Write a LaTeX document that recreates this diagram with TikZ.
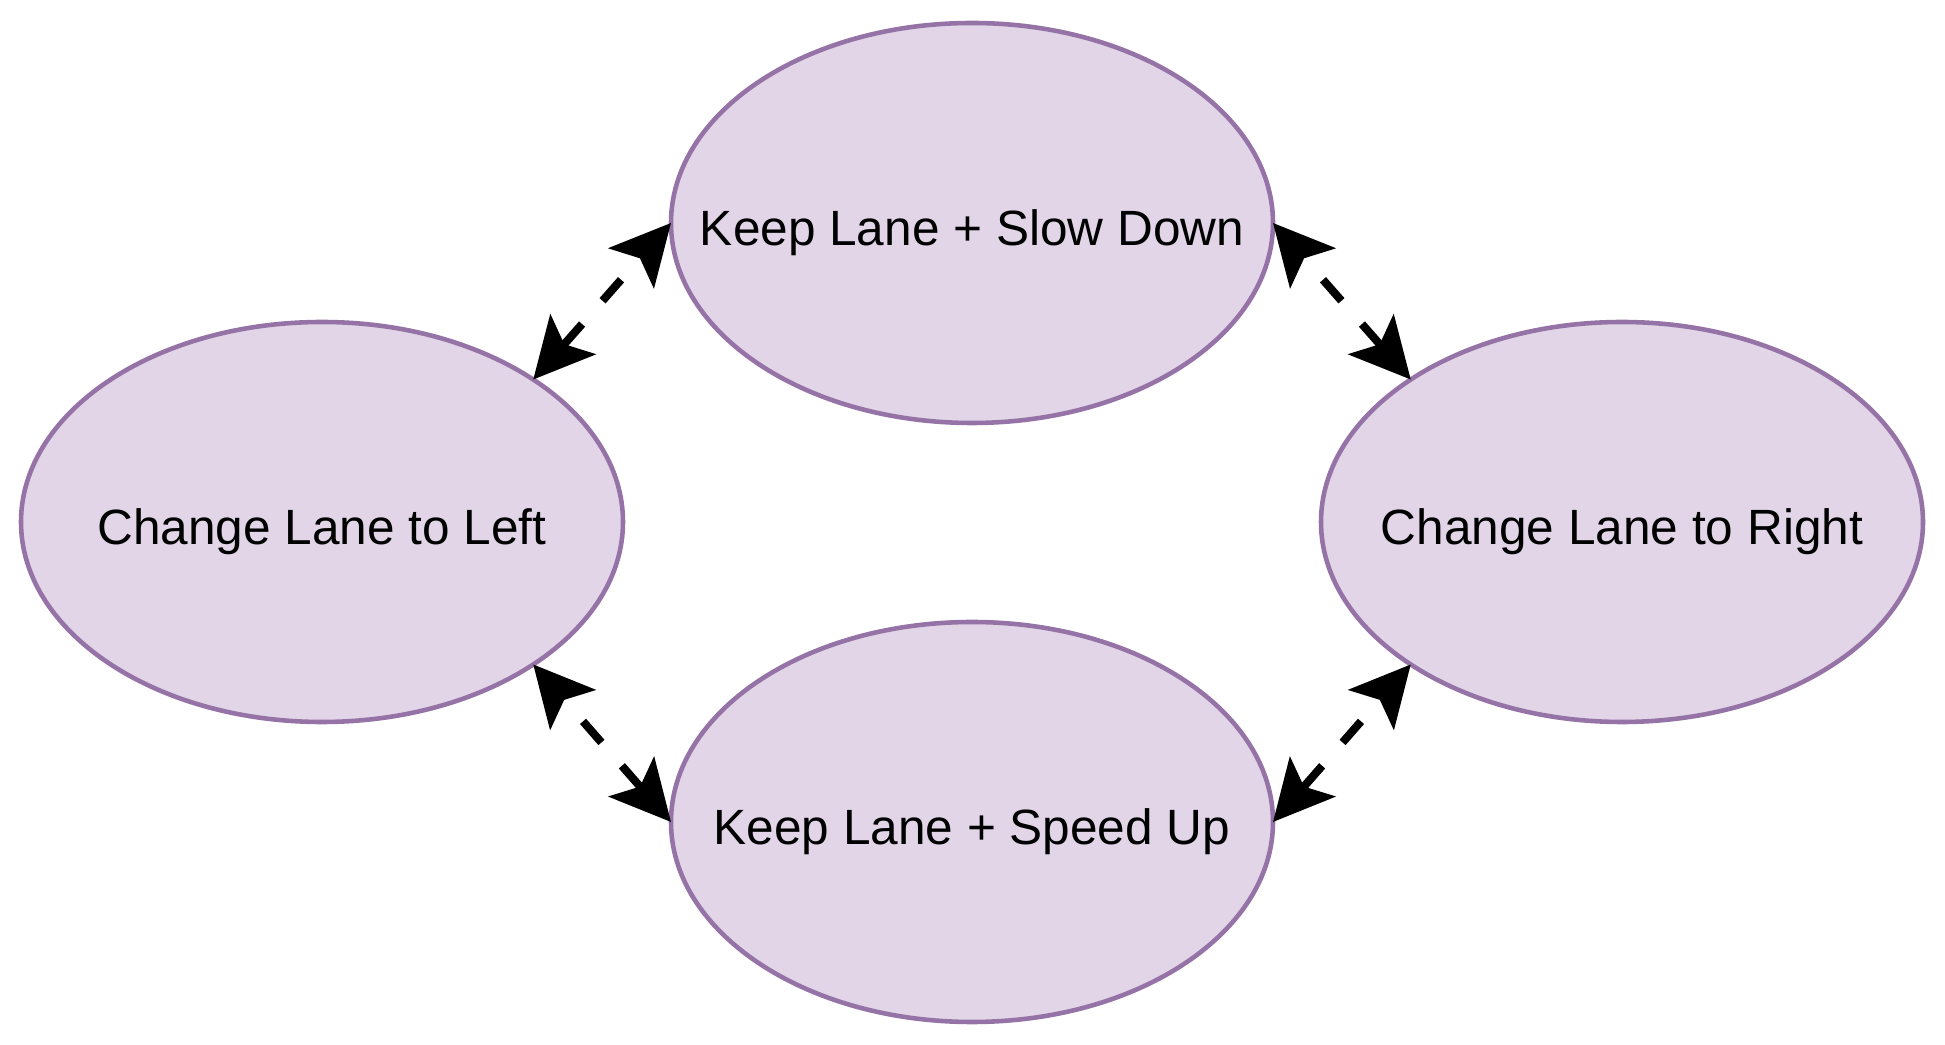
\documentclass[tikz,border=0pt]{standalone}
\usepackage{fontspec}
\setmainfont{Liberation Sans}
\usetikzlibrary{shapes.geometric,arrows.meta}
\definecolor{lanefill}{HTML}{E1D5E7}
\definecolor{laneline}{HTML}{9673A6}

\begin{document}
\begin{tikzpicture}[
  lane/.style={ellipse, draw=laneline, fill=lanefill, line width=1.3pt,
    minimum width=6.02cm, minimum height=4cm, inner sep=0pt, outer sep=0pt,
    font=\fontsize{14.1}{17}\selectfont, text height=12.7pt, text depth=0pt},
  link/.style={line width=2.3pt, dash pattern=on 0.28cm off 0.31cm, dash phase=0.28cm,
    {Stealth[length=0.6cm, width=0.6cm, inset=0.13cm]}-{Stealth[length=0.6cm, width=0.6cm, inset=0.13cm]}}
]
% Set the canvas size
\useasboundingbox (0,0) rectangle (19.45,10.45);

% Draw the four manoeuvres
\node[lane] (T) at (9.72, 8.22) {\makebox[0pt]{Keep Lane + Slow Down}};
\node[lane] (L) at (3.22, 5.23) {\makebox[0pt]{Change Lane to Left}};
\node[lane] (R) at (16.22, 5.23) {\makebox[0pt]{Change Lane to Right}};
\node[lane] (B) at (9.72, 2.23) {\makebox[0pt]{Keep Lane + Speed Up}};

% Connect them
\draw[link] (T.west) -- (L.34);
\draw[link] (T.east) -- (R.146);
\draw[link] (L.-34) -- (B.west);
\draw[link] (R.214) -- (B.east);
\end{tikzpicture}
\end{document}
